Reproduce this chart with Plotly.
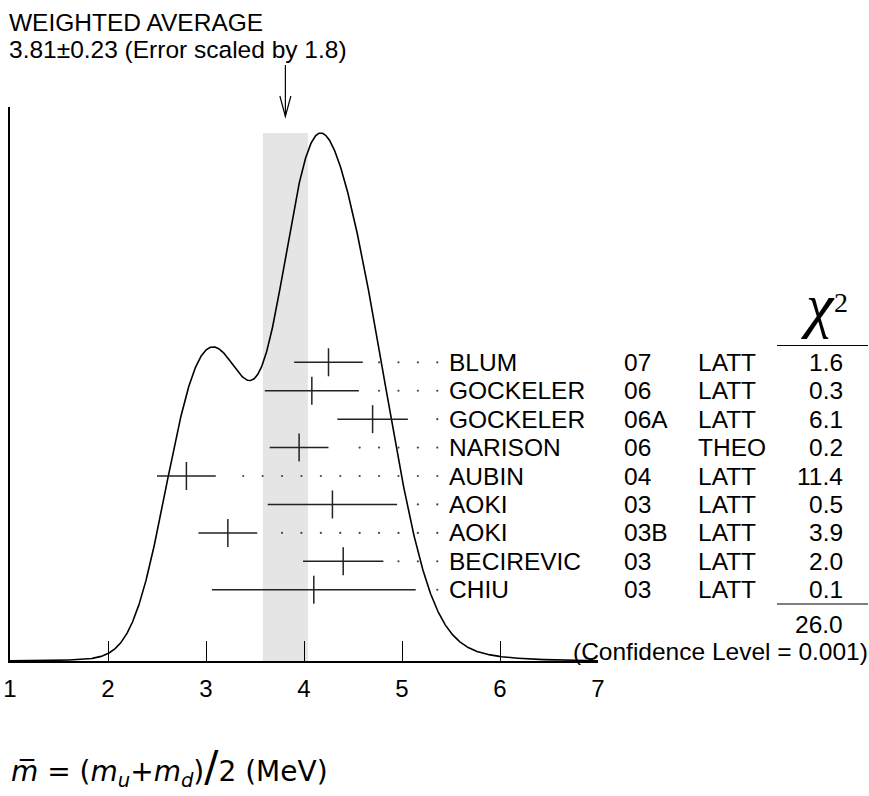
import numpy as np
import plotly.graph_objects as go

# ---------------- data ----------------
names = ["BLUM", "GOCKELER", "GOCKELER", "NARISON", "AUBIN", "AOKI", "AOKI", "BECIREVIC", "CHIU"]
years = ["07", "06", "06A", "06", "04", "03", "03B", "03", "03"]
kinds = ["LATT", "LATT", "LATT", "THEO", "LATT", "LATT", "LATT", "LATT", "LATT"]
values = [4.25, 4.08, 4.70, 3.95, 2.80, 4.29, 3.223, 4.40, 4.10]
errors = [0.35, 0.48, 0.36, 0.30, 0.30, 0.66, 0.30, 0.41, 1.04]
chi2 = ["1.6", "0.3", "6.1", "0.2", "11.4", "0.5", "3.9", "2.0", "0.1"]
chi2_total = "26.0"
confidence = "(Confidence Level = 0.001)"
avg, avg_err, scale = 3.81, 0.23, 1.8
xticks = [1, 2, 3, 4, 5, 6, 7]

# ---------------- layout geometry ----------------
W, H = 869, 796
L, R, T, B = 10, 598, 107, 661   # plot area pixel box
XMIN, XMAX = 1, 7
rows = list(range(len(names)))
ROW0_PX, ROW_STEP = 362.3, 28.43
PAD = 3  # annotation inner padding in px


def pxx(px):
    return (px - L) / (R - L)


def pxy(py):
    return (B - py) / (B - T)


# ideogram: each measurement a Gaussian of area 1/sigma
xs = np.linspace(XMIN, XMAX, 1201)
ys = np.zeros_like(xs)
for v, e in zip(values, errors):
    ys += np.exp(-0.5 * ((xs - v) / e) ** 2) / (e * e * np.sqrt(2 * np.pi))
peak_h = pxy(133)
ys = ys / ys.max() * peak_h

# dotted leaders
dot_last, dot_step, gap = 5.36, 0.198, 0.135
dx, dy = [], []
for r, v, e in zip(rows, values, errors):
    k = 0
    while True:
        p = dot_last - k * dot_step
        if p <= v + e + gap:
            break
        dx.append(p)
        dy.append(r)
        k += 1

fig = go.Figure()

fig.add_shape(type="rect", xref="x", yref="y", x0=avg - avg_err, x1=avg + avg_err,
              y0=0, y1=peak_h, fillcolor="#e5e5e5", line=dict(width=0), layer="below")

fig.add_trace(go.Scatter(x=xs, y=ys, mode="lines", line=dict(color="black", width=1.6),
                         hoverinfo="skip", showlegend=False))

fig.add_trace(go.Scatter(x=dx, y=dy, yaxis="y2", mode="markers",
                         marker=dict(size=2.2, color="#444"), showlegend=False, hoverinfo="skip"))

fig.add_trace(go.Scatter(
    x=values, y=rows, yaxis="y2", mode="markers",
    marker=dict(symbol="line-ns", size=20, line=dict(width=1.5, color="#222")),
    error_x=dict(type="data", array=errors, symmetric=True, width=0, thickness=1.5, color="#222"),
    showlegend=False))

FONT = "Liberation Sans, Arial, Helvetica, sans-serif"
FS = 24.5
ann = []


def txt(text, xpx, y, yref="paper", xanchor="left", size=FS, family=None):
    shift = -PAD if xanchor == "left" else (PAD if xanchor == "right" else 0)
    f = dict(size=size)
    if family:
        f["family"] = family
    ann.append(dict(text=text, x=pxx(xpx + shift), y=y, xref="paper", yref=yref,
                    xanchor=xanchor, yanchor="middle", showarrow=False, font=f))


txt("WEIGHTED AVERAGE", 10, pxy(22))
txt(f"{avg:.2f}±{avg_err:.2f} (Error scaled by {scale})", 10, pxy(49))
for r in rows:
    txt(names[r], 450, r, yref="y2")
    txt(years[r], 625, r, yref="y2")
    txt(kinds[r], 699, r, yref="y2")
    txt(chi2[r], 842, r, yref="y2", xanchor="right")
txt(chi2_total, 842, pxy(624), xanchor="right")
txt(confidence, 867, pxy(651), xanchor="right")
SERIF = "Liberation Serif, Times New Roman, serif"
txt("<i>χ</i>", 818, pxy(305), xanchor="center", size=62, family=SERIF)
txt("2", 841, pxy(302), xanchor="center", size=28, family=SERIF)
txt("<i>m&#773;</i> = (<i>m</i><sub><i>u</i></sub>+<i>m</i><sub><i>d</i></sub>)"
    "<span style='font-size:42px'>/</span>2 (MeV)", 12, pxy(767), size=28,
    family="DejaVu Sans, sans-serif")

shapes = []
# chi2 header underline and total line
shapes.append(dict(type="line", xref="paper", yref="paper", x0=pxx(777), x1=pxx(868),
                   y0=pxy(345.5), y1=pxy(345.5), line=dict(color="black", width=1.2)))
shapes.append(dict(type="line", xref="paper", yref="paper", x0=pxx(777), x1=pxx(868),
                   y0=pxy(604), y1=pxy(604), line=dict(color="black", width=1.2)))
# arrow to the weighted average
ax_p = (avg - XMIN) / (XMAX - XMIN)
leg = 5.5 / (R - L)
shapes.append(dict(type="line", xref="paper", yref="paper", x0=ax_p, x1=ax_p,
                   y0=pxy(65), y1=pxy(116.5), line=dict(color="black", width=1.2)))
shapes.append(dict(type="path", xref="paper", yref="paper",
                   path=f"M {ax_p - leg},{pxy(96)} L {ax_p},{pxy(116.5)} L {ax_p + leg},{pxy(96)}",
                   line=dict(color="black", width=1.2)))
for s in shapes:
    fig.add_shape(**s)

fig.update_layout(
    width=W, height=H, margin=dict(l=L, r=W - R, t=T, b=H - B, autoexpand=False),
    paper_bgcolor="white", plot_bgcolor="white",
    font=dict(family=FONT, size=FS, color="black"),
    annotations=ann, showlegend=False,
    xaxis=dict(range=[XMIN, XMAX], tickvals=xticks, ticks="inside", ticklen=20, tickwidth=1.4,
               tickcolor="black", showline=True, linecolor="black", linewidth=1.6,
               showgrid=False, zeroline=False, tickfont=dict(size=24), ticklabelstandoff=5,
               automargin=False),
    yaxis=dict(range=[0, 1], showline=True, linecolor="black", linewidth=1.6, ticks="",
               showticklabels=False, showgrid=False, zeroline=False, automargin=False),
    yaxis2=dict(overlaying="y", range=[(B - ROW0_PX) / ROW_STEP, (T - ROW0_PX) / ROW_STEP],
                visible=False),
)

fig.write_html("out.html")
